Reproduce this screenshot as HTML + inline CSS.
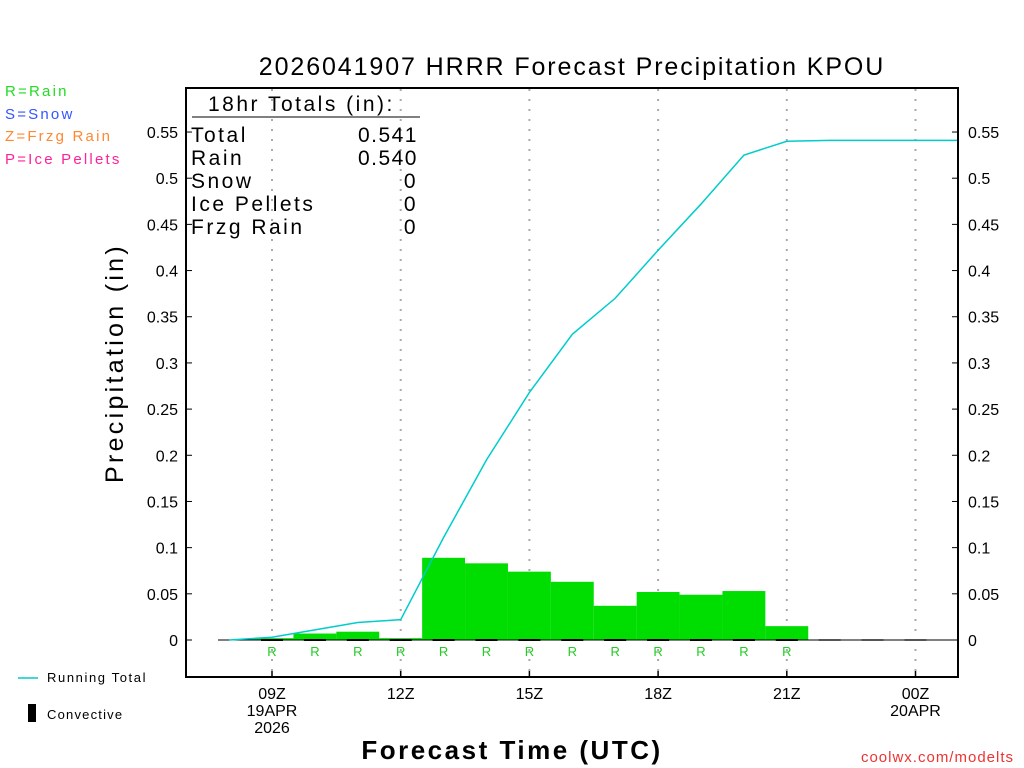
<!DOCTYPE html>
<html><head><meta charset="utf-8"><style>
body{margin:0;background:#fff;width:1024px;height:768px;overflow:hidden}
svg{font-family:"Liberation Sans",sans-serif;display:block}
</style></head><body>
<svg id="c" width="1024" height="768">
<g id="g"></g>
<g font-family="Liberation Sans,sans-serif" font-size="21" letter-spacing="2.5">
<text x="208" y="111">18hr Totals (in):</text>
<line x1="192" y1="117" x2="420" y2="117" stroke="#000"/>
<text x="191" y="142">Total</text><text x="418" y="142" text-anchor="end" letter-spacing="1.5">0.541</text>
<text x="191" y="165">Rain</text><text x="418" y="165" text-anchor="end" letter-spacing="1.5">0.540</text>
<text x="191" y="188">Snow</text><text x="418" y="188" text-anchor="end">0</text>
<text x="191" y="211">Ice Pellets</text><text x="418" y="211" text-anchor="end">0</text>
<text x="191" y="234">Frzg Rain</text><text x="418" y="234" text-anchor="end">0</text>
</g>
<text x="572" y="75" font-family="Liberation Sans,sans-serif" font-size="25" text-anchor="middle" letter-spacing="1.9">2026041907 HRRR Forecast Precipitation KPOU</text>
<text transform="translate(123,363) rotate(-90)" font-family="Liberation Sans,sans-serif" font-size="25" text-anchor="middle" letter-spacing="3.3">Precipitation (in)</text>
<text x="512" y="759" font-family="Liberation Sans,sans-serif" font-size="26" font-weight="bold" text-anchor="middle" letter-spacing="2.5">Forecast Time (UTC)</text>
<g font-family="Liberation Sans,sans-serif" font-size="15" letter-spacing="2.2">
<text x="5" y="96" fill="#22dd22">R=Rain</text>
<text x="5" y="119" fill="#3355ff">S=Snow</text>
<text x="5" y="141" fill="#ff8833">Z=Frzg Rain</text>
<text x="5" y="164" fill="#ff2299">P=Ice Pellets</text>
</g>
<line x1="18" y1="678" x2="38" y2="678" stroke="#00cccc" stroke-width="1.5"/>
<text x="47" y="682" font-family="Liberation Sans,sans-serif" font-size="13" letter-spacing="1.6">Running Total</text>
<rect x="28" y="704" width="8" height="18" fill="#000"/>
<text x="47" y="719" font-family="Liberation Sans,sans-serif" font-size="13" letter-spacing="1.2">Convective</text>
<text x="1014" y="762" font-family="Liberation Sans,sans-serif" font-size="15" fill="#ee3333" text-anchor="end" letter-spacing="1">coolwx.com/modelts</text>
</svg>
<script>
const hours=[9,10,11,12,13,14,15,16,17,18,19,20,21];
const hourlyPrecip=[0.002,0.007,0.009,0.002,0.089,0.083,0.074,0.063,0.037,0.052,0.049,0.053,0.015];
const totalHours=[8,9,10,11,12,13,14,15,16,17,18,19,20,21,22,23,24,25];
const runningTotal=[0,0.003,0.011,0.019,0.022,0.111,0.195,0.268,0.331,0.370,0.422,0.472,0.525,0.540,0.541,0.541,0.541,0.541];
const yTicks=[0,0.05,0.1,0.15,0.2,0.25,0.3,0.35,0.4,0.45,0.5,0.55];
const yTickLabels=["0","0.05","0.1","0.15","0.2","0.25","0.3","0.35","0.4","0.45","0.5","0.55"];
const xTicks=[9,12,15,18,21,24];
const xTickLabels=[["09Z","19APR","2026"],["12Z"],["15Z"],["18Z"],["21Z"],["00Z","20APR"]];
const ns="http://www.w3.org/2000/svg";
const g=document.getElementById('g');
const X=h=>272+(h-9)*42.9;
const Y=v=>640-v*923.6;
function el(t,a,txt){const e=document.createElementNS(ns,t);for(const k in a)e.setAttribute(k,a[k]);if(txt!==undefined)e.textContent=txt;g.appendChild(e);return e;}
xTicks.forEach((h,i)=>{
 let l=el('line',{x1:X(h),x2:X(h),y1:89,y2:676,stroke:'#aaa','stroke-width':2,'stroke-dasharray':'2,8'});
 
 
 el('line',{x1:X(h),x2:X(h),y1:671,y2:677,stroke:'#000','stroke-width':1.5});
 xTickLabels[i].forEach((s,j)=>{
  let t=el('text',{x:X(h),y:699+j*17,'font-size':16,'text-anchor':'middle'},s);
  
  
 });
});
yTicks.forEach((v,i)=>{
 el('line',{x1:186,x2:192,y1:Y(v),y2:Y(v),stroke:'#000'});
 el('line',{x1:952,x2:958,y1:Y(v),y2:Y(v),stroke:'#000'});
 let t=el('text',{x:178,y:Y(v)+6,'font-size':16,'text-anchor':'end'},yTickLabels[i]);
 
 
 let t2=el('text',{x:968,y:Y(v)+6,'font-size':16},yTickLabels[i]);
 
 
});
hours.forEach((h,i)=>{
 let b=el('rect',{x:X(h)-21.45,y:Y(hourlyPrecip[i]),width:42.9,height:640-Y(hourlyPrecip[i]),fill:'#00dd00'});
 
 
 let r=el('text',{x:X(h),y:656,'font-size':13,fill:'#22cc22','text-anchor':'middle'},'R');
 
 
});
el('line',{x1:218,x2:958,y1:640,y2:640,stroke:'#000','stroke-width':1});
totalHours.slice(1,17).forEach(h=>{
 let d=el('line',{x1:X(h)-11,x2:X(h)+11,y1:640,y2:640,stroke:h<=21?'#000':'#555','stroke-width':2});
 
 
});
let pts=totalHours.map((h,i)=>Math.min(X(h),958)+','+Y(runningTotal[i])).join(' ');
let pl=el('polyline',{points:pts,fill:'none',stroke:'#00cccc','stroke-width':1.5});


let f=el('rect',{x:186,y:88,width:772,height:589,fill:'none',stroke:'#000','stroke-width':2});


</script>
</body></html>
